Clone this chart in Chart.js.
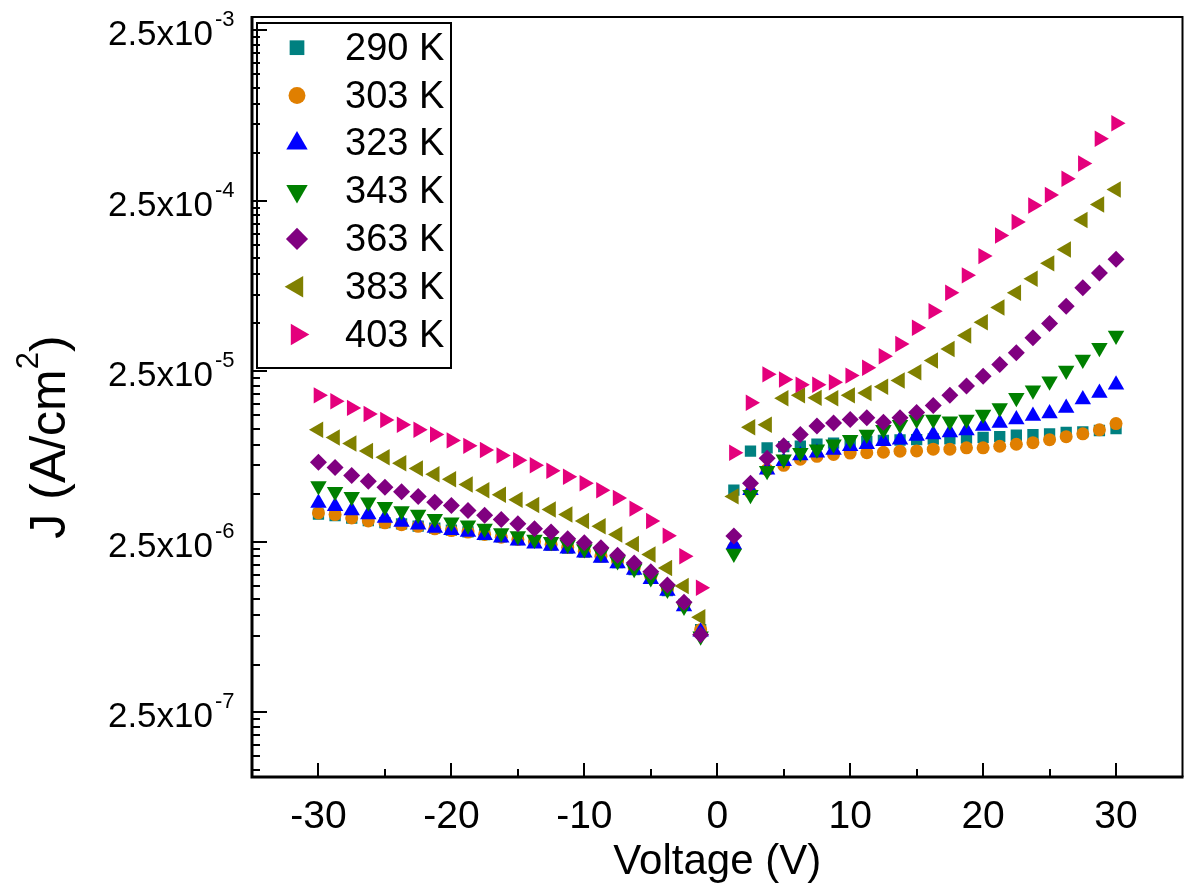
<!DOCTYPE html>
<html lang="en">
<head>
  <meta charset="UTF-8" />
  <title>J-V characteristics vs temperature</title>
  <script src="https://cdn.jsdelivr.net/npm/chart.js"></script>
  <style>
    html, body {
      margin: 0;
      padding: 0;
      background-color: #fff;
    }

    canvas {
      display: block;
    }
  </style>
</head>
<body>
  <canvas id="jvChart" width="1192" height="892"></canvas>

  <script>
    // bias voltage (V), same for every temperature
    const voltage = [
      -30, -28.75, -27.5, -26.25, -25, -23.75, -22.5, -21.25, -20, -18.75, -17.5, -16.25,
      -15, -13.75, -12.5, -11.25, -10, -8.75, -7.5, -6.25, -5, -3.75, -2.5, -1.25,
      1.25, 2.5, 3.75, 5, 6.25, 7.5, 8.75, 10, 11.25, 12.5, 13.75, 15,
      16.25, 17.5, 18.75, 20, 21.25, 22.5, 23.75, 25, 26.25, 27.5, 28.75, 30
    ];

    // current density J (A/cm2)
    const j290 = [
      3.62e-6, 3.55e-6, 3.43e-6, 3.32e-6, 3.23e-6, 3.17e-6, 3.08e-6, 3.0e-6, 2.92e-6, 2.85e-6, 2.75e-6, 2.66e-6,
      2.57e-6, 2.47e-6, 2.38e-6, 2.29e-6, 2.17e-6, 2.03e-6, 1.88e-6, 1.71e-6, 1.52e-6, 1.29e-6, 1.07e-6, 7.6e-7,
      5.0e-6, 8.47e-6, 8.86e-6, 9.0e-6, 9.05e-6, 9.3e-6, 9.45e-6, 9.5e-6, 9.65e-6, 9.8e-6, 9.85e-6, 9.9e-6,
      9.98e-6, 1.0e-5, 1.01e-5, 1.02e-5, 1.03e-5, 1.05e-5, 1.06e-5, 1.07e-5, 1.09e-5, 1.10e-5, 1.12e-5, 1.15e-5
    ];
    const j303 = [
      3.68e-6, 3.6e-6, 3.44e-6, 3.3e-6, 3.22e-6, 3.14e-6, 3.07e-6, 2.97e-6, 2.9e-6, 2.84e-6, 2.75e-6, 2.65e-6,
      2.57e-6, 2.5e-6, 2.4e-6, 2.31e-6, 2.19e-6, 2.05e-6, 1.92e-6, 1.75e-6, 1.56e-6, 1.31e-6, 1.07e-6, 7.6e-7,
      2.31e-6, 4.85e-6, 6.6e-6, 7.0e-6, 7.6e-6, 7.9e-6, 8.1e-6, 8.26e-6, 8.3e-6, 8.35e-6, 8.47e-6, 8.5e-6,
      8.7e-6, 8.7e-6, 8.86e-6, 8.86e-6, 9.05e-6, 9.3e-6, 9.5e-6, 9.9e-6, 1.03e-5, 1.07e-5, 1.13e-5, 1.23e-5
    ];
    const j323 = [
      4.2e-6, 4.03e-6, 3.8e-6, 3.6e-6, 3.44e-6, 3.26e-6, 3.14e-6, 3.0e-6, 2.91e-6, 2.84e-6, 2.72e-6, 2.63e-6,
      2.53e-6, 2.43e-6, 2.35e-6, 2.27e-6, 2.15e-6, 2.0e-6, 1.86e-6, 1.70e-6, 1.50e-6, 1.28e-6, 1.04e-6, 7.4e-7,
      2.4e-6, 5.0e-6, 6.6e-6, 7.4e-6, 7.98e-6, 8.3e-6, 8.6e-6, 9.05e-6, 9.3e-6, 9.7e-6, 9.9e-6, 1.04e-5,
      1.06e-5, 1.09e-5, 1.12e-5, 1.19e-5, 1.24e-5, 1.30e-5, 1.36e-5, 1.41e-5, 1.52e-5, 1.70e-5, 1.86e-5, 2.08e-5
    ];
    const j343 = [
      5.3e-6, 4.9e-6, 4.57e-6, 4.25e-6, 4.0e-6, 3.77e-6, 3.6e-6, 3.4e-6, 3.24e-6, 3.11e-6, 2.98e-6, 2.81e-6,
      2.69e-6, 2.57e-6, 2.49e-6, 2.4e-6, 2.26e-6, 2.15e-6, 1.92e-6, 1.73e-6, 1.53e-6, 1.31e-6, 1.04e-6, 6.96e-7,
      2.13e-6, 4.7e-6, 6.5e-6, 7.6e-6, 8.3e-6, 8.7e-6, 9.3e-6, 9.9e-6, 1.06e-5, 1.13e-5, 1.21e-5, 1.30e-5,
      1.30e-5, 1.27e-5, 1.30e-5, 1.39e-5, 1.52e-5, 1.74e-5, 1.93e-5, 2.18e-5, 2.52e-5, 2.92e-5, 3.42e-5, 4.04e-5
    ];
    const j363 = [
      7.3e-6, 6.8e-6, 6.1e-6, 5.65e-6, 5.2e-6, 4.9e-6, 4.6e-6, 4.25e-6, 4.07e-6, 3.8e-6, 3.57e-6, 3.37e-6,
      3.18e-6, 2.97e-6, 2.84e-6, 2.6e-6, 2.46e-6, 2.3e-6, 2.08e-6, 1.87e-6, 1.66e-6, 1.39e-6, 1.10e-6, 7.1e-7,
      2.69e-6, 5.5e-6, 7.7e-6, 9.1e-6, 1.06e-5, 1.19e-5, 1.24e-5, 1.30e-5, 1.33e-5, 1.25e-5, 1.33e-5, 1.43e-5,
      1.57e-5, 1.80e-5, 2.04e-5, 2.33e-5, 2.73e-5, 3.2e-5, 3.92e-5, 4.75e-5, 6.0e-5, 7.7e-5, 9.4e-5, 1.13e-4
    ];
    const j383 = [
      1.13e-5, 1.02e-5, 9.4e-6, 8.5e-6, 7.8e-6, 7.2e-6, 6.7e-6, 6.2e-6, 5.8e-6, 5.4e-6, 5.0e-6, 4.7e-6,
      4.4e-6, 4.1e-6, 3.85e-6, 3.6e-6, 3.3e-6, 3.07e-6, 2.75e-6, 2.42e-6, 2.1e-6, 1.75e-6, 1.37e-6, 9.0e-7,
      4.6e-6, 1.17e-5, 1.21e-5, 1.73e-5, 1.80e-5, 1.74e-5, 1.73e-5, 1.80e-5, 1.86e-5, 2.02e-5, 2.2e-5, 2.46e-5,
      2.88e-5, 3.37e-5, 4.04e-5, 4.83e-5, 5.9e-5, 7.2e-5, 8.7e-5, 1.07e-4, 1.29e-4, 1.92e-4, 2.37e-4, 2.9e-4
    ];
    const j403 = [
      1.80e-5, 1.66e-5, 1.52e-5, 1.40e-5, 1.29e-5, 1.21e-5, 1.13e-5, 1.06e-5, 9.8e-6, 9.1e-6, 8.6e-6, 8.0e-6,
      7.5e-6, 7.0e-6, 6.5e-6, 6.0e-6, 5.5e-6, 5.0e-6, 4.5e-6, 3.9e-6, 3.3e-6, 2.7e-6, 2.05e-6, 1.34e-6,
      8.3e-6, 1.63e-5, 2.39e-5, 2.23e-5, 2.08e-5, 2.08e-5, 2.15e-5, 2.35e-5, 2.61e-5, 3.05e-5, 3.6e-5, 4.48e-5,
      5.6e-5, 7.2e-5, 9.1e-5, 1.18e-4, 1.56e-4, 1.87e-4, 2.34e-4, 2.69e-4, 3.35e-4, 4.12e-4, 5.75e-4, 7.1e-4
    ];

    const seriesLabels = ["290 K", "303 K", "323 K", "343 K", "363 K", "383 K", "403 K"];

    const xMajorTicks = [-30, -20, -10, 0, 10, 20, 30];
    const xMinorTicks = [-25, -15, -5, 5, 15, 25];
    const xTickLabels = ["-30", "-20", "-10", "0", "10", "20", "30"];
    const yMajorTicks = [2.5e-7, 2.5e-6, 2.5e-5, 2.5e-4, 2.5e-3];
    const yTickMantissa = ["2.5x10", "2.5x10", "2.5x10", "2.5x10", "2.5x10"];
    const yTickExponents = ["-7", "-6", "-5", "-4", "-3"];

    const yMin = 1.04e-7, yMax = 2.98e-3;
    const FONT = '"Liberation Sans", Arial, Helvetica, sans-serif';

    // marker look per series (Origin-like symbols)
    const looks = [
      { color: "#008080", style: "rect", radius: 8, rotation: 0 },
      { color: "#E07F00", style: "circle", radius: 6.5, rotation: 0 },
      { color: "#0000FF", style: "triangle", radius: 9.5, rotation: 0 },
      { color: "#008000", style: "triangle", radius: 9.5, rotation: 180 },
      { color: "#800080", style: "rectRot", radius: 8.5, rotation: 0 },
      { color: "#808000", style: "triangle", radius: 9.5, rotation: 270 },
      { color: "#E4007C", style: "triangle", radius: 9.5, rotation: 90 }
    ];
    const allSeries = [j290, j303, j323, j343, j363, j383, j403];

    // minor y ticks: 9 linear steps between the 2.5x10^n majors
    const yMinorTicks = [];
    [2.5e-8].concat(yMajorTicks).forEach(m => {
      for (let k = 1; k <= 9; k++) {
        const v = m * (1 + 0.9 * k);
        if (v > yMin && v < yMax) yMinorTicks.push(v);
      }
    });

    function line(ctx, x1, y1, x2, y2) {
      ctx.beginPath();
      ctx.moveTo(x1, y1);
      ctx.lineTo(x2, y2);
      ctx.stroke();
    }

    function marker(ctx, look, x, y, scale) {
      ctx.fillStyle = look.color;
      Chart.helpers.drawPoint(ctx, {
        pointStyle: look.style,
        rotation: look.rotation,
        radius: look.radius * scale,
        borderWidth: 0
      }, x, y);
    }

    const originAxes = {
      id: "originAxes",
      afterDatasetsDraw(chart) {
        const { ctx, chartArea: a } = chart;
        const xs = chart.scales.x, ys = chart.scales.y;
        ctx.save();
        ctx.strokeStyle = "#000";
        ctx.fillStyle = "#000";

        // top + right frame
        ctx.lineWidth = 2;
        ctx.beginPath();
        ctx.moveTo(a.left, a.top);
        ctx.lineTo(a.right, a.top);
        ctx.lineTo(a.right, a.bottom);
        ctx.stroke();

        // inward ticks
        xMajorTicks.forEach(v => {
          const p = Math.round(xs.getPixelForValue(v));
          line(ctx, p, a.bottom, p, a.bottom - 14);
        });
        xMinorTicks.forEach(v => {
          const p = Math.round(xs.getPixelForValue(v));
          line(ctx, p, a.bottom, p, a.bottom - 8);
        });
        yMajorTicks.forEach(v => {
          const p = Math.round(ys.getPixelForValue(v));
          line(ctx, a.left, p, a.left + 15, p);
        });
        yMinorTicks.forEach(v => {
          const p = Math.round(ys.getPixelForValue(v));
          line(ctx, a.left, p, a.left + 8, p);
        });

        // axis lines
        ctx.lineWidth = 3;
        ctx.beginPath();
        ctx.moveTo(a.left, a.top - 1);
        ctx.lineTo(a.left, a.bottom);
        ctx.lineTo(a.right + 1, a.bottom);
        ctx.stroke();

        // x tick labels
        ctx.font = "39px " + FONT;
        ctx.textAlign = "center";
        ctx.textBaseline = "alphabetic";
        xMajorTicks.forEach((v, i) => {
          ctx.fillText(xTickLabels[i], xs.getPixelForValue(v), 828);
        });

        // y tick labels 2.5x10^n
        yMajorTicks.forEach((v, i) => {
          const p = ys.getPixelForValue(v);
          ctx.font = "35px " + FONT;
          ctx.textAlign = "right";
          ctx.fillText(yTickMantissa[i], 213, p + 15);
          ctx.font = "22px " + FONT;
          ctx.textAlign = "left";
          ctx.fillText(yTickExponents[i], 215, p - 4);
        });

        // x title
        ctx.font = "42px " + FONT;
        ctx.textAlign = "center";
        ctx.fillText("Voltage (V)", (a.left + a.right) / 2, 874);

        // y title, rotated, with superscript 2
        ctx.save();
        ctx.translate(65, 437);
        ctx.rotate(-Math.PI / 2);
        ctx.textAlign = "left";
        ctx.font = "50px " + FONT;
        const partA = "J (A/cm", partC = ")";
        const wA = ctx.measureText(partA).width;
        const wC = ctx.measureText(partC).width;
        ctx.font = "31px " + FONT;
        const wB = ctx.measureText("2").width;
        let x0 = -(wA + wB + wC) / 2;
        ctx.font = "50px " + FONT;
        ctx.fillText(partA, x0, 0);
        ctx.font = "31px " + FONT;
        ctx.fillText("2", x0 + wA, -27);
        ctx.font = "50px " + FONT;
        ctx.fillText(partC, x0 + wA + wB, 0);
        ctx.restore();

        ctx.restore();
      },
      afterDraw(chart) {
        const { ctx } = chart;
        ctx.save();
        // legend box
        ctx.strokeStyle = "#000";
        ctx.lineWidth = 2;
        ctx.strokeRect(257, 23, 194, 345);
        ctx.font = "38px " + FONT;
        ctx.textAlign = "left";
        ctx.textBaseline = "alphabetic";
        seriesLabels.forEach((label, i) => {
          const cy = 47.7 + i * 47.8;
          marker(ctx, looks[i], 297, cy, 1.3);
          ctx.fillStyle = "#000";
          ctx.fillText(label, 345, cy + 12);
        });
        ctx.restore();
      }
    };

    const datasets = allSeries.map((arr, i) => ({
      label: seriesLabels[i],
      data: voltage.map((v, k) => ({ x: v, y: arr[k] })),
      showLine: false,
      pointStyle: looks[i].style,
      pointRotation: looks[i].rotation,
      pointRadius: looks[i].radius,
      pointBackgroundColor: looks[i].color,
      pointBorderWidth: 0,
      order: allSeries.length - 1 - i
    }));

    new Chart(document.getElementById("jvChart"), {
      type: "scatter",
      data: { datasets },
      options: {
        responsive: false,
        animation: false,
        events: [],
        layout: { padding: { left: 252, right: 2, top: 17, bottom: 115 } },
        plugins: {
          legend: { display: false },
          tooltip: { enabled: false }
        },
        scales: {
          x: { type: "linear", min: -35, max: 35, display: false },
          y: { type: "logarithmic", min: yMin, max: yMax, display: false }
        }
      },
      plugins: [originAxes]
    });
  </script>
</body>
</html>
